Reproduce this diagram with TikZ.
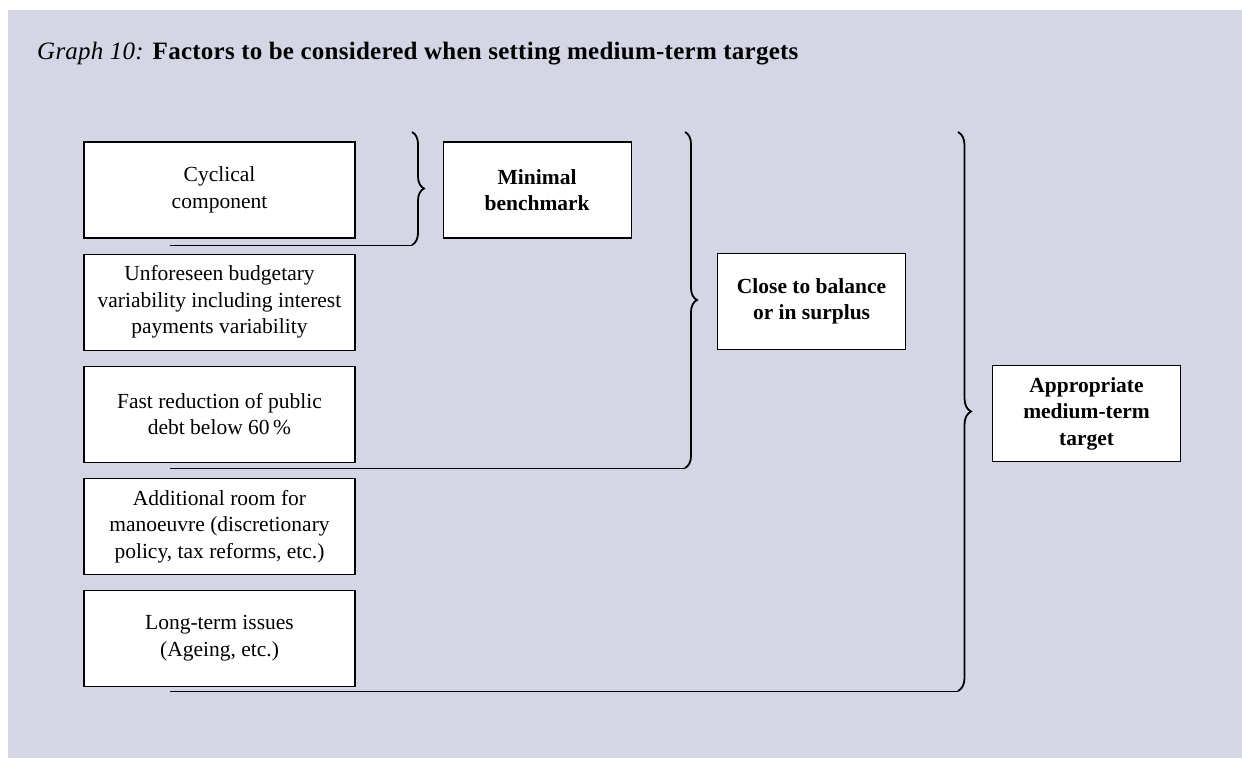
\documentclass[tikz,border=0pt]{standalone}
\usepackage{fontspec}
\setmainfont{Liberation Serif}
\newfontfamily\titlefont[LetterSpace=1]{Liberation Serif}
\usepackage{xcolor}
\usetikzlibrary{positioning,decorations.pathreplacing}
\definecolor{panelbg}{RGB}{212,214,230}

\begin{document}
\begin{tikzpicture}[
  x=1pt, y=-1pt,
  node distance=15pt,
  factor/.style={rectangle, draw, fill=white, line width=1.1pt, minimum width=271pt, minimum height=96pt, inner sep=0pt, align=center, font=\fontsize{21.5}{26.5}\selectfont},
  target/.style={rectangle, draw, fill=white, line width=1.1pt, minimum width=188pt, minimum height=96pt, inner sep=0pt, align=center, font=\fontsize{21.5}{26.5}\selectfont\bfseries},
  bracket/.style={decorate, decoration={brace, amplitude=12pt}, line width=1.8pt},
  link/.style={line width=1pt}
]
\useasboundingbox (0,0) rectangle (1242,758);
\fill[panelbg] (8,10) rectangle (1242,758);

% Title
\node[anchor=base west, inner sep=0pt, font=\titlefont\fontsize{25}{28}\selectfont] (title) at (37,59) {\textit{Graph 10:} \textbf{Factors to be considered when setting medium-term targets}};

% Factors
\node[factor] (cyc) at (219.5,190) {Cyclical\\component};
\node[factor] (unf) [below=of cyc] {Unforeseen budgetary\\variability including interest\\payments variability};
\node[factor] (debt) [below=of unf] {Fast reduction of public\\debt below 60\,\%};
\node[factor] (room) [below=of debt] {Additional room for\\manoeuvre (discretionary\\policy, tax reforms, etc.)};
\node[factor] (long) [below=of room] {Long-term issues\\(Ageing, etc.)};

% Targets
\node[target] (minb) [right=87pt of cyc] {Minimal\\benchmark};
\node[target, anchor=west] (close) at (717,301.5) {Close to balance\\or in surplus};
\node[target, anchor=west] (mtt) at (992,413.5) {Appropriate\\medium-term\\target};

% Braces
\coordinate (b1t) at (412,132);
\coordinate (b1b) at (412,245);
\coordinate (b2t) at (685,132);
\coordinate (b2b) at (685,468);
\coordinate (b3t) at (958,132);
\coordinate (b3b) at (958,691);
\draw[bracket] (b1t) -- (b1b);
\draw[bracket] (b2t) -- (b2b);
\draw[bracket, decoration={amplitude=13pt}] (b3t) -- (b3b);

% Lines under the groups
\coordinate (l1) at (170,245);
\coordinate (l2) at (170,468);
\coordinate (l3) at (170,691);
\draw[link] (l1) -- (b1b);
\draw[link] (l2) -- (b2b);
\draw[link] (l3) -- (b3b);

\end{tikzpicture}
\end{document}
